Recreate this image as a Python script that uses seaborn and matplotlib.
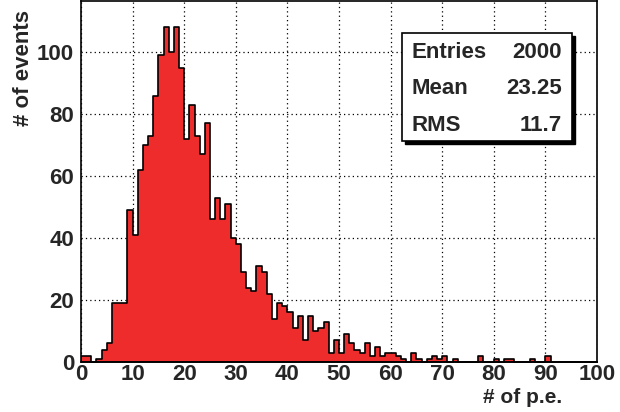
import numpy as np
import pandas as pd
import matplotlib
matplotlib.use("Agg")
import matplotlib.pyplot as plt
import seaborn as sns
from matplotlib.patches import Rectangle

# ---- data (bin contents, bins of width 1 from 0 to 100) ----
bin_edges_lo = list(range(0, 100))
counts = [
    2, 2, 0, 1, 4, 6, 19, 19, 19, 49,
    41, 62, 70, 73, 86, 99, 108, 100, 108, 95,
    72, 83, 73, 67, 77, 46, 53, 46, 51, 40,
    38, 29, 24, 23, 31, 29, 22, 14, 19, 18,
    16, 11, 15, 7, 15, 10, 11, 13, 3, 7,
    3, 9, 6, 4, 3, 6, 2, 5, 2, 3,
    3, 2, 1, 0, 3, 1, 0, 1, 2, 1,
    2, 0, 1, 0, 0, 0, 0, 2, 0, 0,
    1, 0, 1, 1, 0, 0, 0, 1, 0, 0,
    2, 0, 0, 0, 0, 0, 0, 0, 0, 0,
]
x_ticks = [0, 10, 20, 30, 40, 50, 60, 70, 80, 90, 100]
y_ticks = [0, 20, 40, 60, 80, 100]
stats_names = ["Entries", "Mean", "RMS"]
stats_values = ["2000", "23.25", "11.7"]
x_title = "# of p.e."
y_title = "# of events"

df = pd.DataFrame({"center": np.array(bin_edges_lo, dtype=float) + 0.5,
                   "n": np.array(counts, dtype=float)})

sns.set_style("white")
plt.rcParams["font.family"] = ["Liberation Sans", "DejaVu Sans"]
plt.rcParams["font.weight"] = "bold"

FS = 16
W, H = 620, 412
fig = plt.figure(figsize=(W / 100, H / 100), dpi=100)
ax = fig.add_axes([81 / W, 50 / H, 516 / W, 361 / H])

sns.histplot(data=df, x="center", weights="n", binwidth=1, binrange=(0, 100),
             element="step", fill=True, color="#EE2C2C", alpha=1.0,
             edgecolor="black", linewidth=1.2, ax=ax, zorder=3)

ax.set_xlim(0, 100)
ax.set_ylim(0, 116.5)
ax.set_xticks(x_ticks)
ax.set_yticks(y_ticks)
ax.set_xticks(np.arange(0, 101, 2), minor=True)
ax.set_yticks(np.arange(0, 116, 5), minor=True)
ax.tick_params(axis="x", which="major", direction="in", length=7.2, width=1.0,
               labelsize=FS, pad=1.5, top=False)
ax.tick_params(axis="x", which="minor", direction="in", length=3.6, width=1.0, top=False)
ax.tick_params(axis="y", which="major", direction="in", length=10, width=1.0,
               labelsize=FS, pad=5, right=False)
ax.tick_params(axis="y", which="minor", direction="in", length=5, width=1.0, right=False)
for lab in ax.get_xticklabels() + ax.get_yticklabels():
    lab.set_fontweight("bold")

ax.grid(True, which="major", color="black", linestyle=(0, (1, 2.5)), linewidth=0.9, zorder=1)
ax.set_axisbelow(True)
for s in ax.spines.values():
    s.set_color("black")
    s.set_linewidth(1.2)
    s.set_zorder(5)

ax.set_xlabel("")
ax.set_ylabel("")
fig.text(562 / W, 1 - 403 / H, x_title, ha="right", va="baseline",
         fontsize=15, fontweight="bold")
fig.text(34 / W, 1 - 10 / H, y_title, ha="right", va="top", rotation=90,
         fontsize=FS, fontweight="bold")

# ---- stats box ----
bx0, bx1, by0, by1 = 401.7, 571.7, 33.3, 140.7
shadow = Rectangle(((bx0 + 3) / W, 1 - (by1 + 3) / H), (bx1 - bx0) / W, (by1 - by0) / H,
                   transform=fig.transFigure, facecolor="black", edgecolor="black",
                   linewidth=1, zorder=10)
box = Rectangle((bx0 / W, 1 - by1 / H), (bx1 - bx0) / W, (by1 - by0) / H,
                transform=fig.transFigure, facecolor="white", edgecolor="black",
                linewidth=1.2, zorder=11)
fig.patches.extend([shadow, box])
baselines = [58, 94.5, 131]
for name, val, yb in zip(stats_names, stats_values, baselines):
    fig.text(411 / W, 1 - yb / H, name, ha="left", va="baseline", fontsize=FS,
             fontweight="bold", zorder=12)
    fig.text(562 / W, 1 - yb / H, val, ha="right", va="baseline", fontsize=FS,
             fontweight="bold", zorder=12)

fig.savefig("out.png", dpi=100)
